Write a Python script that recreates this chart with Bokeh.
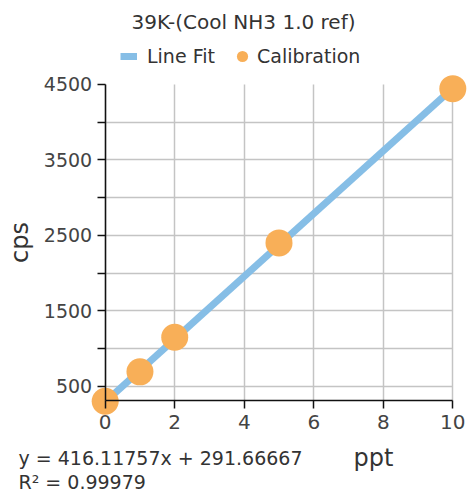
from bokeh.plotting import figure
from bokeh.models import Range1d, FixedTicker, Label, Legend, LegendItem
from bokeh.embed import file_html
from bokeh.resources import INLINE

# ---- data ----
title_text = "39K-(Cool NH3 1.0 ref)"
conc_ppt = [0, 1, 2, 5, 10]
cps = [300, 690, 1150, 2400, 4445]
fit_x = [0, 10]
fit_y = [291.67, 4452.84]
x_ticks = [0, 2, 4, 6, 8, 10]
y_ticks = [500, 1000, 1500, 2000, 2500, 3000, 3500, 4000, 4500]
y_labels = {500: "500", 1000: "", 1500: "1500", 2000: "", 2500: "2500",
            3000: "", 3500: "3500", 4000: "", 4500: "4500"}
eq_line1 = "y = 416.11757x + 291.66667"
eq_line2 = "R\u00b2 = 0.99979"

FONT = "DejaVu Sans"
TEXT = "#333333"
BLUE = "#86BEE6"
ORANGE = "#F8AF58"

# ---- layout (pixels of the reference picture) ----
W, H = 468, 493
PAGE = 0
PX_X0, PX_X10 = 104.7, 452.3          # x = 0 and x = 10
PX_Y500, PX_Y4000 = 385.7, 121.7      # y = 500 and y = 4000
AX_X = (0, 10)                        # drawn axis extents
AX_Y = (304, 4500)

sx = (PX_X10 - PX_X0) / 10.0
sy = (PX_Y500 - PX_Y4000) / 3500.0
def px2x(px):
    return (px - PX_X0) / sx
def px2y(py):
    return 500 + (PX_Y500 - py) / sy

x_range = Range1d(px2x(PAGE), px2x(PAGE + W))
y_range = Range1d(px2y(PAGE + H), px2y(PAGE))

p = figure(width=W, height=H, output_backend="svg", toolbar_location=None,
           x_range=x_range, y_range=y_range,
           min_border_left=0, min_border_right=0,
           min_border_top=0, min_border_bottom=0)
p.outline_line_color = None
p.background_fill_color = "white"

# grids
p.xgrid.ticker = FixedTicker(ticks=x_ticks)
p.ygrid.ticker = FixedTicker(ticks=y_ticks[:-1])
p.xgrid[0].cross_bounds = AX_Y
p.ygrid[0].cross_bounds = AX_X
for g in (p.xgrid[0], p.ygrid[0]):
    g.grid_line_color = "#c4c4c4"
    g.grid_line_width = 1.5

line_r = p.line(fit_x, fit_y, line_color=BLUE, line_width=7)
pts_r = p.scatter(conc_ppt, cps, size=27, fill_color=ORANGE, line_color=None)

# axes
xa = p.xaxis[0]
xa.ticker = FixedTicker(ticks=x_ticks)
xa.fixed_location = AX_Y[0]
xa.bounds = AX_X
ya = p.yaxis[0]
ya.ticker = FixedTicker(ticks=y_ticks)
ya.major_label_overrides = y_labels
ya.fixed_location = AX_X[0]
ya.bounds = AX_Y
for ax in (xa, ya):
    ax.axis_line_color = "#111111"
    ax.axis_line_width = 1.5
    ax.major_tick_line_color = "#111111"
    ax.major_tick_line_width = 1.5
    ax.major_tick_in = 0
    ax.major_tick_out = 8
    ax.minor_tick_line_color = None
    ax.major_label_text_font = FONT
    ax.major_label_text_color = "#444444"
xa.major_label_text_font_size = "20px"
xa.major_label_standoff = 6
ya.major_label_text_font_size = "19px"
ya.major_label_standoff = 5
ya.axis_label = "cps"
ya.axis_label_text_font = FONT
ya.axis_label_text_font_size = "24px"
ya.axis_label_text_font_style = "normal"
ya.axis_label_text_color = TEXT
ya.axis_label_standoff = 7

# title and texts (py = vertical centre of the text line)
def text(px, py, s, size, align="left"):
    p.add_layout(Label(x=px2x(px), y=px2y(py), text=s, text_align=align,
                       text_baseline="middle", text_font=FONT,
                       text_font_size=size, text_color=TEXT))

text(243, 21, title_text, "20px", "center")
text(353, 457, "ppt", "24px")
text(18, 457, eq_line1, "19px")
text(18, 481, eq_line2, "19px")

# legends (above the plotting area), location = offset from lower-left corner
def make_legend(item, loc, gw, gh, standoff):
    lg = Legend(items=[item], location=loc, orientation="horizontal",
                glyph_width=gw, glyph_height=gh, label_standoff=standoff,
                padding=0, margin=0, border_line_color=None,
                background_fill_alpha=0, label_text_font=FONT,
                label_text_font_size="19px", label_text_color=TEXT)
    p.add_layout(lg, "center")
    return lg

# centre line of the legend row at picture y = 56
make_legend(LegendItem(label="Line Fit", renderers=[line_r]), (120, H - 56 - 11), 17, 20, 10)
make_legend(LegendItem(label="Calibration", renderers=[pts_r]), (228, H - 56 - 14), 28, 28, 1)

open("out.html", "w").write(file_html(p, INLINE))
